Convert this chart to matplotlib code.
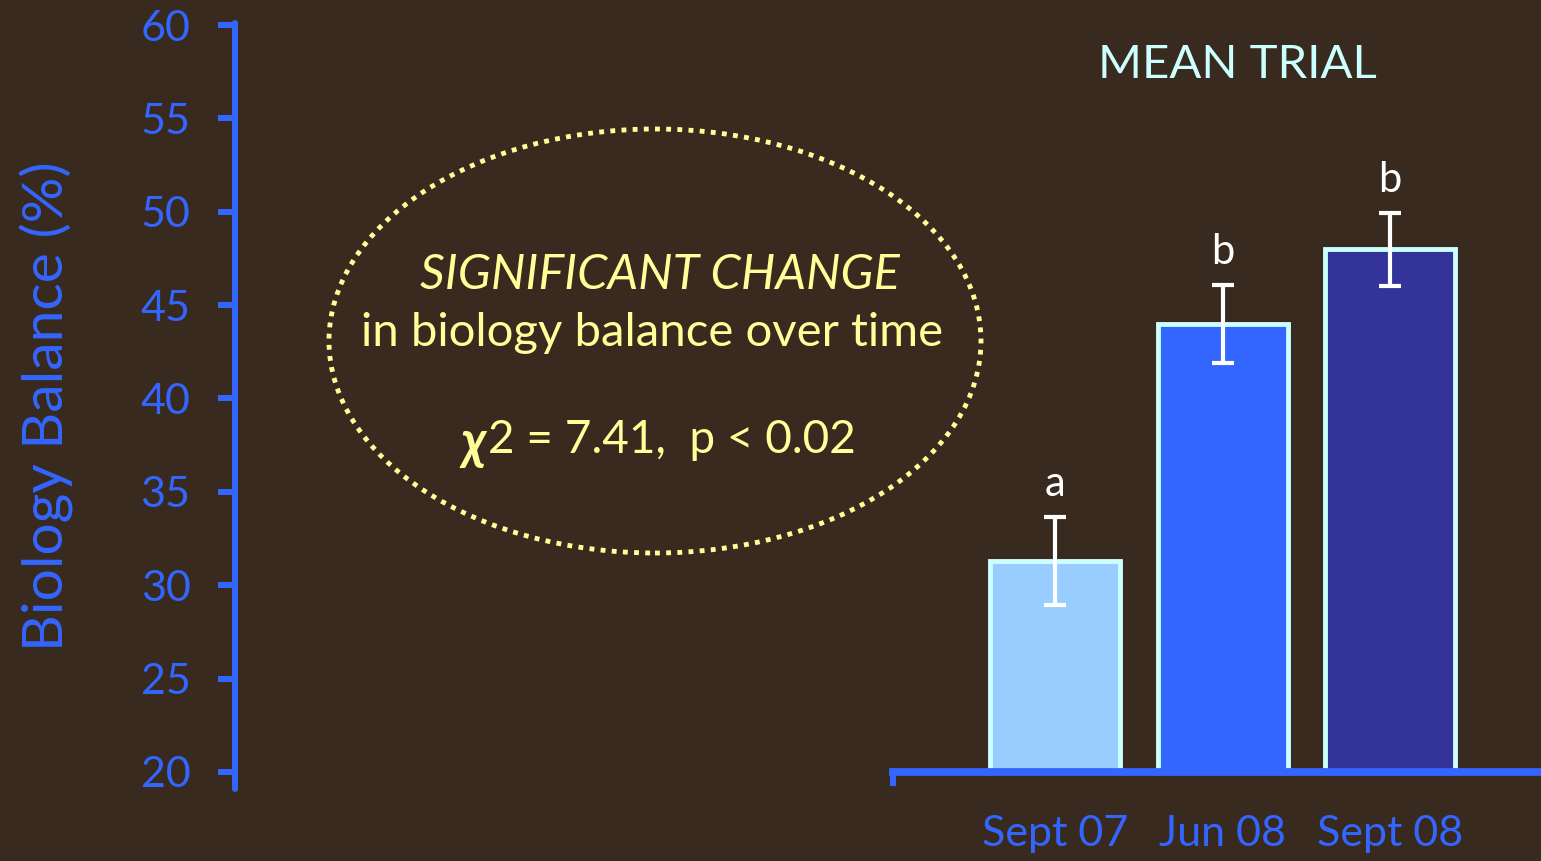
import matplotlib.pyplot as plt
from matplotlib.patches import Ellipse
import numpy as np

plt.rcParams['font.family'] = ['Lato', 'DejaVu Sans']

# data
periods = ['Sept 07', 'Jun 08', 'Sept 08']
balance = [31.3, 44.0, 48.0]
err = [2.35, 2.1, 1.95]
groups = ['a', 'b', 'b']
bar_colors = ['#99ccff', '#3366ff', '#333399']
yticks = [20, 25, 30, 35, 40, 45, 50, 55, 60]

bg = '#382a1e'
blue = '#3366ff'
cyan = '#ccffff'
yellow = '#ffff99'

fig = plt.figure(figsize=(15.41, 8.61), dpi=100, facecolor=bg)
ax = fig.add_axes([0.1525, 0.0817, 0.8475, 0.8936])
ax.set_facecolor(bg)

x = np.arange(len(periods))
ax.bar(x, np.array(balance) - 20, bottom=20, width=0.776, color=bar_colors,
       edgecolor=cyan, linewidth=3.5, zorder=2)
ax.errorbar(x, balance, yerr=err, fmt='none', ecolor='white', elinewidth=3,
            capsize=8, capthick=3, zorder=3)
for xi, v, e, g in zip(x, balance, err, groups):
    ax.annotate(g, (xi, v + e), xytext=(0, 10), textcoords='offset points',
                ha='center', va='bottom', color='white', fontsize=30)

ax.set_xlim(-4.896, 2.901)
ax.set_ylim(19, 60.2)

# spines
for s in ['top', 'right']:
    ax.spines[s].set_visible(False)
ax.spines['left'].set_color(blue)
ax.spines['left'].set_linewidth(4.3)
ax.spines['left'].set_bounds(19.1, 60.1)
ax.spines['left'].set_capstyle('round')
ax.spines['bottom'].set_color(blue)
ax.spines['bottom'].set_linewidth(5.6)
ax.spines['bottom'].set_position(('data', 20))
ax.spines['bottom'].set_bounds(-0.967, 2.901)

ax.set_yticks(yticks)
ax.set_yticklabels([str(t) for t in yticks])
ax.tick_params(axis='y', colors=blue, length=12, width=4.3, pad=20,
               labelsize=31, labelcolor=blue)
ax.set_xticks(x)
ax.set_xticklabels(periods)
ax.tick_params(axis='x', length=0, pad=31, labelsize=31, labelcolor=blue)
ax.set_xticks([-0.967], minor=True)
ax.tick_params(axis='x', which='minor', length=10, width=4.3, color=blue)

ax.set_ylabel('Biology Balance (%)', color=blue, fontsize=41, labelpad=48)

fig.text(1237 / 1541, 1 - 65 / 861, 'MEAN TRIAL', color=cyan, fontsize=34,
         ha='center', va='center')

# annotation ellipse
ell = Ellipse((655 / 1541, 1 - 341 / 861), 652 / 1541, 424 / 861,
              transform=fig.transFigure, fill=False, edgecolor=yellow,
              linestyle=(0, (1, 1.3)), linewidth=3.5)
fig.patches.append(ell)

fig.text(660 / 1541, 1 - 275 / 861, 'SIGNIFICANT CHANGE', color=yellow,
         fontsize=35, style='italic', ha='center', va='center')
fig.text(652 / 1541, 1 - 333 / 861, 'in biology balance over time',
         color=yellow, fontsize=34, ha='center', va='center')
fig.text(486 / 1541, 1 - 444 / 861, 'χ', color=yellow, fontsize=38,
         fontweight='bold', style='italic', ha='right', va='center')
fig.text(488 / 1541, 1 - 440 / 861, '2 = 7.41,  p < 0.02', color=yellow,
         fontsize=33, ha='left', va='center')

fig.savefig('out.png', dpi=100, facecolor=bg)
